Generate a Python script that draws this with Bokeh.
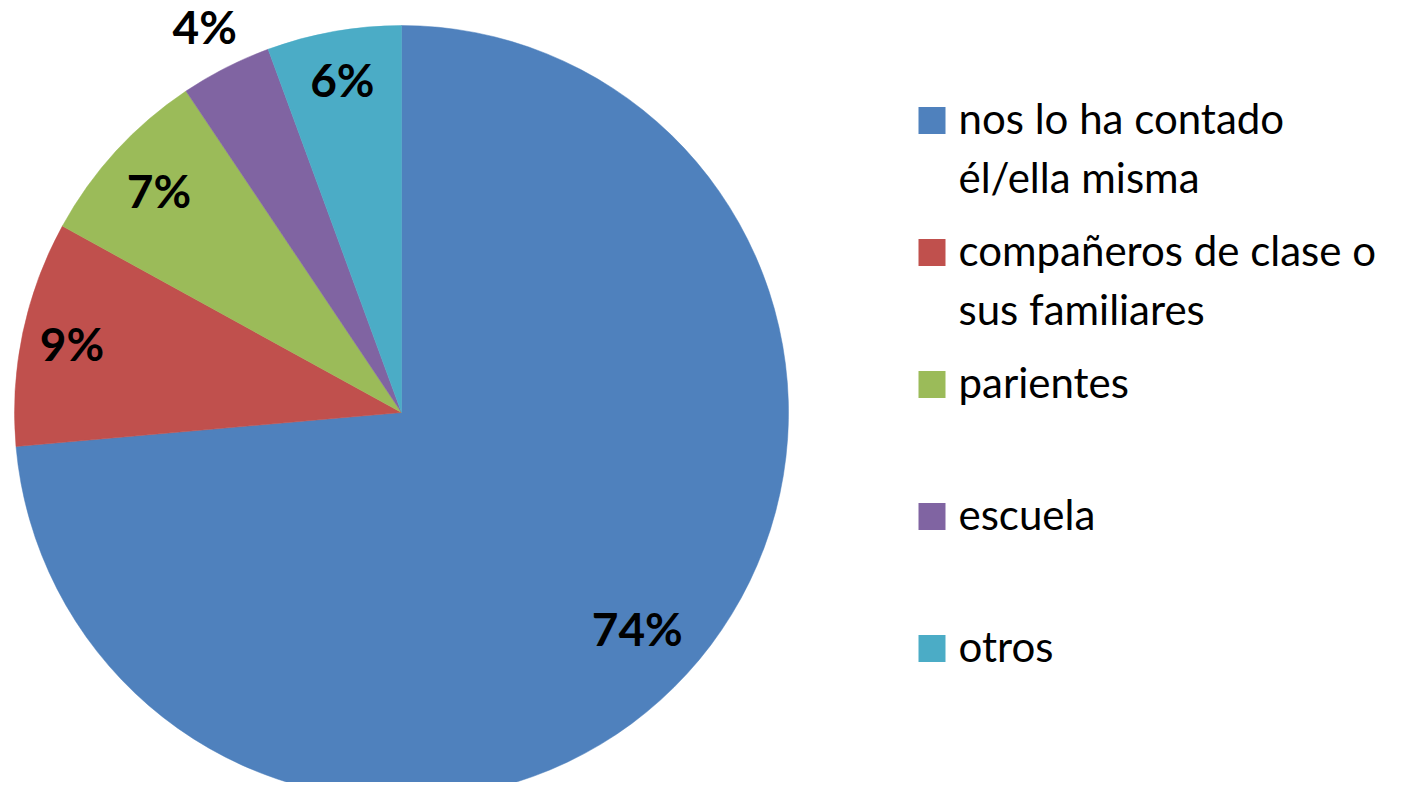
import math
import numpy as np
from bokeh.plotting import figure
from bokeh.models import ColumnDataSource, Range1d
from bokeh.core.properties import value
from bokeh.embed import file_html
from bokeh.resources import INLINE

# ---- data ----
categories = [
    ["nos lo ha contado", "él/ella misma"],
    ["compañeros de clase o", "sus familiares"],
    ["parientes"],
    ["escuela"],
    ["otros"],
]
shares = [73.6, 9.4, 7.6, 3.8, 5.6]
pct_labels = ["74%", "9%", "7%", "4%", "6%"]
colors = ["#4F81BD", "#C0504D", "#9BBB59", "#8064A2", "#4BACC6"]

# ---- layout / style ----
W, H = 1390, 782
CX, CY, R = 401, 370, 387
label_radius_frac = [0.826, 0.87, 0.85, 1.12, 0.873]
FONT = "Lato"

p = figure(width=W, height=H, output_backend="svg", toolbar_location=None,
           x_range=Range1d(0, W), y_range=Range1d(0, H), min_border=0,
           outline_line_color=None, background_fill_color="white")
p.xaxis.visible = False
p.yaxis.visible = False
p.grid.visible = False

vals = np.array(shares, dtype=float)
frac = vals / vals.sum()
cum_end = np.cumsum(frac)
cum_start = cum_end - frac
start_angle = math.pi / 2 - 2 * math.pi * cum_end
end_angle = math.pi / 2 - 2 * math.pi * cum_start
mid = math.pi / 2 - 2 * math.pi * (cum_start + frac / 2)

src = ColumnDataSource(dict(
    x=[CX] * len(vals), y=[CY] * len(vals),
    start=start_angle, end=end_angle, color=colors,
))
p.wedge(x="x", y="y", radius=R, start_angle="start", end_angle="end",
        fill_color="color", line_color="color", line_width=0.5, source=src)

lr = np.array(label_radius_frac) * R
lab_src = ColumnDataSource(dict(
    x=CX + lr * np.cos(mid), y=CY + lr * np.sin(mid), text=pct_labels,
))
p.text(x="x", y="y", text="text", source=lab_src, text_align="center",
       text_baseline="middle", text_font=value(FONT), text_font_style="bold",
       text_font_size="46px", text_color="black")

# ---- legend ----
LEG_X_SQ = 931.5
LEG_X_TXT = 958
LEG_Y0 = 662
TXT_DY = 3
LEG_STEP = 132
LINE_STEP = 59
sq_x, sq_y, tx, ty, tt = [], [], [], [], []
for i, lines in enumerate(categories):
    yc = LEG_Y0 - i * LEG_STEP
    sq_x.append(LEG_X_SQ)
    sq_y.append(yc)
    for j, line in enumerate(lines):
        tx.append(LEG_X_TXT)
        ty.append(yc + TXT_DY - j * LINE_STEP)
        tt.append(line)
p.rect(x=sq_x, y=sq_y, width=27, height=27, fill_color=colors, line_color=None)
p.text(x=tx, y=ty, text=tt, text_align="left", text_baseline="middle",
       text_font=value(FONT), text_font_size="42px", text_color="black")

open("out.html", "w").write(file_html(p, INLINE))
